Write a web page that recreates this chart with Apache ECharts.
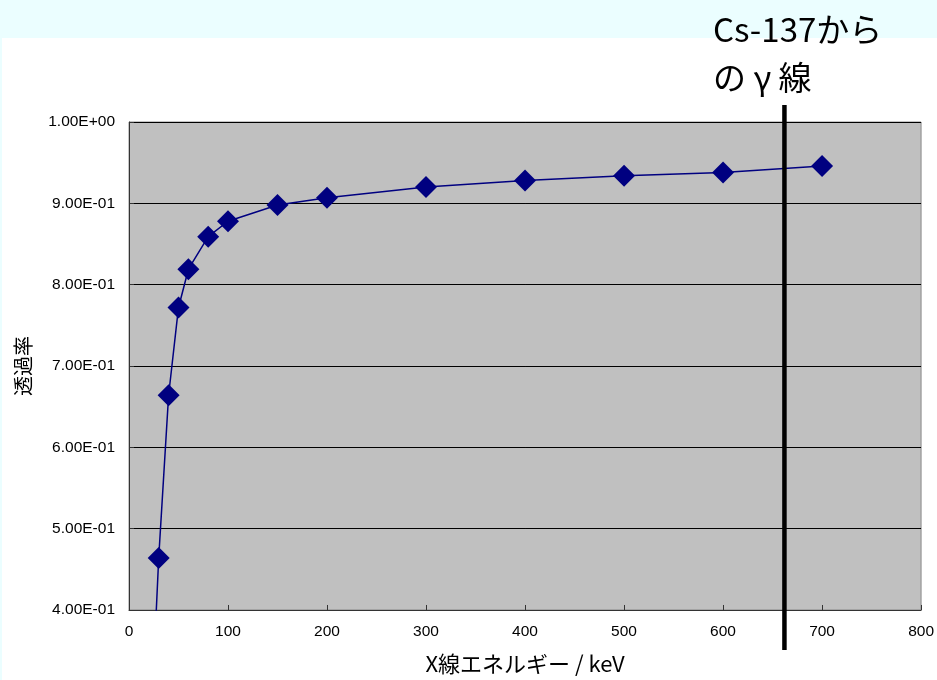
<!DOCTYPE html>
<html>
<head>
<meta charset="utf-8">
<script src="https://cdn.jsdelivr.net/npm/echarts@6/dist/echarts.min.js"></script>
<style>
  html, body { margin: 0; padding: 0; background: #EBFEFF; }
  #chart { width: 937px; height: 680px; }
</style>
</head>
<body>
<div id="chart"></div>
<script>
// X-ray energy (keV) and transmittance
const energies = [20, 30, 40, 50, 60, 80, 100, 150, 200, 300, 400, 500, 600, 700];
const transmittance = [0.2, 0.464, 0.664, 0.772, 0.819, 0.859, 0.878, 0.898, 0.907, 0.920, 0.928, 0.934, 0.938, 0.946];

// Cs-137 gamma-ray energy (keV)
const csGammaEnergy = [662];

// Axis tick labels
const yTickLabels = ['4.00E-01', '5.00E-01', '6.00E-01', '7.00E-01', '8.00E-01', '9.00E-01', '1.00E+00'];
const xTickLabels = ['0', '100', '200', '300', '400', '500', '600', '700', '800'];

const numFont = 'Liberation Sans';
const jpFont = 'Noto Sans CJK JP';

const chart = echarts.init(document.getElementById('chart'), null, { renderer: 'canvas' });

chart.setOption({
  backgroundColor: 'transparent',
  animation: false,
  graphic: [
    { type: 'rect', left: 2, top: 38, shape: { width: 935, height: 642 }, style: { fill: '#FFFFFF' }, z: -10 },
    { type: 'text', left: 713, top: 13, style: { text: 'Cs-137から', font: '33px "Noto Sans CJK JP"', fill: '#000' } },
    { type: 'text', left: 713, top: 61, style: { text: 'の γ 線', font: '33px "Noto Sans CJK JP"', fill: '#000' } }
  ],
  grid: {
    left: 129, right: 14, top: 122, bottom: 67,
    show: true,
    backgroundColor: '#C0C0C0',
    borderColor: '#8A8A8A',
    borderWidth: 1
  },
  xAxis: {
    type: 'value',
    min: 0, max: 800, interval: 100,
    name: 'X線エネルギー / keV',
    nameLocation: 'middle',
    nameGap: 43,
    nameTextStyle: { fontFamily: jpFont, fontSize: 22, color: '#000' },
    axisLine: { show: true, lineStyle: { color: '#333', width: 1 } },
    axisTick: { show: true, inside: true, length: 5, lineStyle: { color: '#333' } },
    axisLabel: {
      fontFamily: numFont, fontSize: 15.5, color: '#000', margin: 14,
      formatter: (v) => xTickLabels[Math.round(v / 100)]
    },
    splitLine: { show: false }
  },
  yAxis: {
    type: 'value',
    min: 0.4, max: 1.0, interval: 0.1,
    name: '透過率',
    nameLocation: 'middle',
    nameGap: 96,
    nameRotate: 90,
    nameTextStyle: { fontFamily: jpFont, fontSize: 20, color: '#000' },
    axisLine: { show: true, lineStyle: { color: '#333', width: 1 } },
    axisTick: { show: true, inside: true, length: 5, lineStyle: { color: '#333' } },
    axisLabel: {
      fontFamily: numFont, fontSize: 15.5, color: '#000', margin: 14,
      formatter: (v) => yTickLabels[Math.round((v - 0.4) * 10)]
    },
    splitLine: { show: true, lineStyle: { color: '#000', width: 1 } }
  },
  series: [
    {
      type: 'line',
      data: energies.map((e, i) => [e, transmittance[i]]),
      clip: true,
      symbol: 'diamond',
      symbolSize: 22,
      showAllSymbol: true,
      lineStyle: { color: '#000080', width: 1.5 },
      itemStyle: { color: '#000080' },
      z: 2
    },
    {
      // vertical marker for the Cs-137 gamma line, extending past the plot frame
      type: 'custom',
      clip: false,
      z: 5,
      data: csGammaEnergy.map((e) => [e]),
      renderItem: (params, api) => {
        const top = api.coord([api.value(0), 1.0]);
        const bottom = api.coord([api.value(0), 0.4]);
        return {
          type: 'line',
          shape: { x1: top[0], y1: top[1] - 17, x2: bottom[0], y2: bottom[1] + 40 },
          style: { stroke: '#000', lineWidth: 4.5 }
        };
      }
    }
  ]
});
</script>
</body>
</html>
